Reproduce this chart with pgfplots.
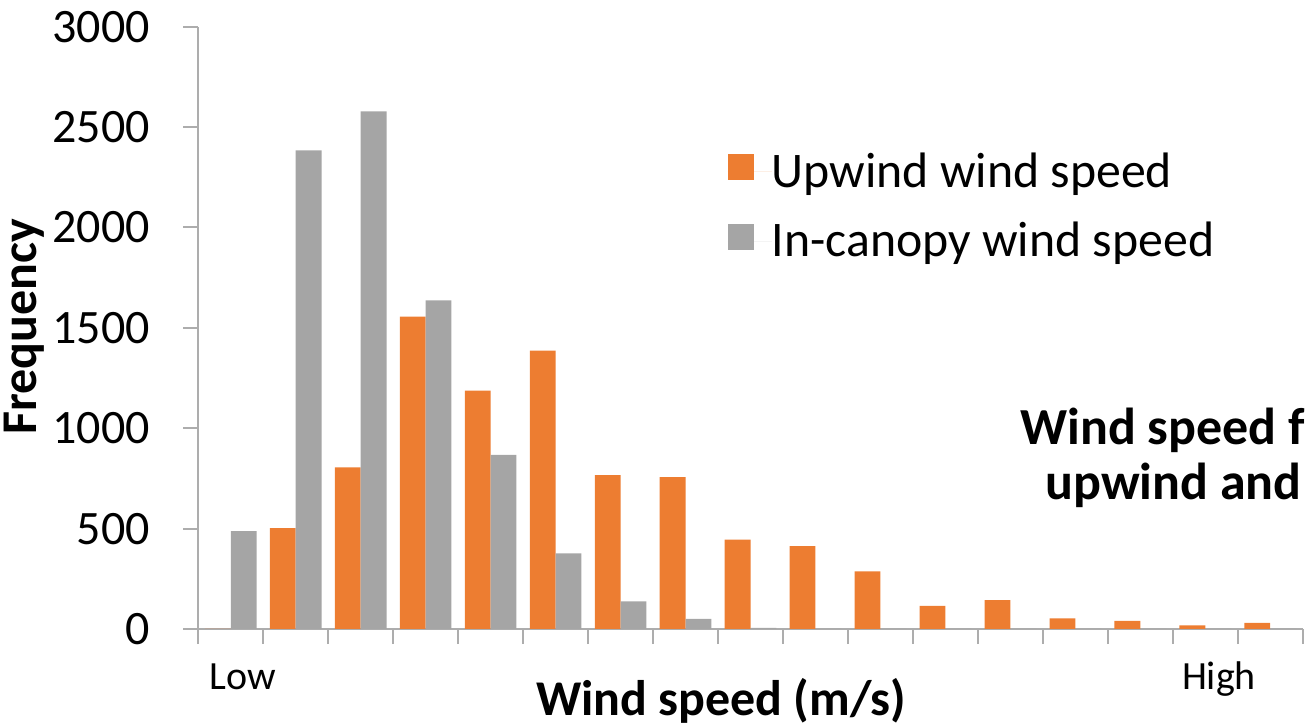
\documentclass[border=0pt]{standalone}
\usepackage{fontspec}
\setmainfont{Carlito}
\usepackage{pgfplots}
\pgfplotsset{compat=1.18}

\definecolor{upwind}{HTML}{ED7D31}
\definecolor{canopy}{HTML}{A5A5A5}
\definecolor{axisgray}{HTML}{ADADAD}
\newcommand{\chartfont}{\fontsize{24}{28.8}\selectfont}
\newcommand{\legendfont}{\fontsize{24.9}{29.9}\selectfont}
\newcommand{\labelfont}{\fontsize{25}{30}\selectfont}
\newcommand{\captionfont}{\fontsize{26}{31.2}\selectfont}
\newcommand{\smallchartfont}{\fontsize{20}{24}\selectfont}

\begin{document}
\begin{tikzpicture}
\useasboundingbox (0,0) rectangle (653.5pt,364pt);
\clip (0,0) rectangle (653.5pt,364pt);
\begin{axis}[
  at={(99.15pt,49.5pt)}, anchor=south west,
  scale only axis, width=552.2pt, height=301.15pt,
  xmin=0.5, xmax=17.5, ymin=0, ymax=3000,
  ybar=0pt, bar width=12.9pt,
  axis x line*=bottom, axis y line*=left,
  axis line style={-, draw=axisgray, line width=1pt},
  xtick={0.5,1.5,...,17.5}, xticklabels={},
  ytick={0,500,...,3000},
  tick align=outside, major tick length=7.5pt,
  tick style={draw=axisgray, line width=1pt},
  yticklabel style={font=\chartfont, anchor=east, inner sep=0pt, xshift=-16.5pt},
  /pgf/number format/assume math mode=true,
  /pgf/number format/1000 sep={},
  ylabel={Frequency},
  ylabel style={font=\labelfont\bfseries, at={(axis description cs:-0.1461,0.5014)}, anchor=base},
  xlabel={Wind speed (m/s)},
  xlabel style={font=\labelfont\bfseries, at={(axis description cs:0.4733,-0.1444)}, anchor=base},
  legend image code/.code={%
    \fill[#1] (0pt,-4.5pt) rectangle (13pt,8.5pt);
    \path (0pt,0pt) -- (21.9pt,0pt);},
  legend cell align=left,
  legend style={at={(axis description cs:0.4796,0.7909)}, anchor=north west,
    draw=none, fill=none, inner sep=0pt, outer sep=0pt, font=\legendfont,
    row sep=16pt, nodes={inner sep=0pt}},
]
\addplot[fill=upwind, draw=none] coordinates {
  (1,0) (2,502) (3,805) (4,1556) (5,1187) (6,1386) (7,767) (8,757) (9,445)
  (10,413) (11,287) (12,115) (13,144) (14,53) (15,41) (16,18) (17,30)};
\addlegendentry{Upwind wind speed}
\addplot[fill=canopy, draw=none] coordinates {
  (1,487) (2,2384) (3,2578) (4,1637) (5,867) (6,377) (7,138) (8,51) (9,6)
  (10,0) (11,0) (12,0) (13,0) (14,0) (15,0) (16,0) (17,0)};
\addlegendentry{In-canopy wind speed}
\end{axis}
% end labels of the speed axis
\node[font=\smallchartfont, anchor=base] at (121.5pt,19pt) {Low};
\node[font=\smallchartfont, anchor=base] at (609.5pt,19pt) {High};
% caption box running past the right edge
\node[font=\captionfont\bfseries, anchor=base west, inner sep=0pt] at (510pt,141.5pt) {Wind speed f};
\node[font=\captionfont\bfseries, anchor=base west, inner sep=0pt] at (522.5pt,114pt) {upwind and};
\end{tikzpicture}
\end{document}
